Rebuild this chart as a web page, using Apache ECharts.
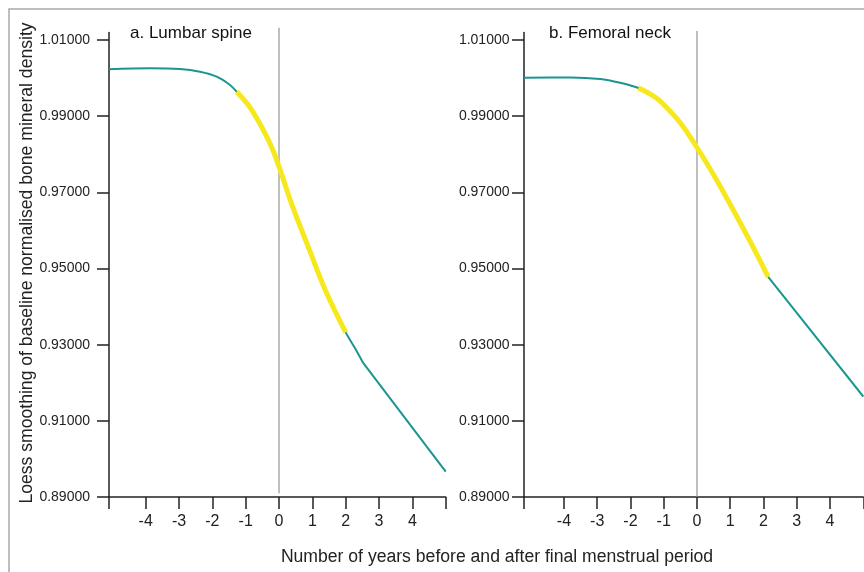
<!DOCTYPE html>
<html>
<head>
<meta charset="utf-8">
<script src="https://cdn.jsdelivr.net/npm/echarts@6/dist/echarts.min.js"></script>
<style>html,body{margin:0;padding:0;background:#fff;}#c{width:864px;height:572px;}</style>
</head>
<body>
<div id="c"></div>
<script>
// Panel a: Lumbar spine
const lumbarYears  = [-5.1, -3.87, -2.97, -2.37, -1.87, -1.47, -1.27, -0.9, -0.57, -0.25, 0, 0.4, 0.9, 1.4, 2.0, 2.28, 2.53, 5.0];
const lumbarValues = [1.00231, 1.00257, 1.00239, 1.00168, 1.00037, 0.99819, 0.99643, 0.99268, 0.98795, 0.98244, 0.97675, 0.96643, 0.95515, 0.94412, 0.93323, 0.92908, 0.92514, 0.89669];
const lumbarHighlightFrom = 6;   // index of first highlighted point
const lumbarHighlightTo = 14;    // index of last highlighted point
const lumbarKink = 16;           // straight segment starts here

// Panel b: Femoral neck
const femoralYears  = [-5.2, -3.81, -2.91, -2.31, -1.76, -1.41, -1.11, -0.51, 0, 0.59, 1.09, 1.59, 2.14, 5.0];
const femoralValues = [1.00011, 1.00016, 0.99976, 0.99877, 0.99740, 0.99583, 0.99399, 0.98835, 0.98178, 0.97325, 0.96538, 0.95724, 0.94779, 0.91638];
const femoralHighlightFrom = 4;
const femoralHighlightTo = 12;
const femoralKink = 12;

const yTicks = [0.89, 0.91, 0.93, 0.95, 0.97, 0.99, 1.01];
const xLabelTicks = [-4, -3, -2, -1, 0, 1, 2, 3, 4];
const panelTitles = ['a. Lumbar spine', 'b. Femoral neck'];
const yAxisTitle = 'Loess smoothing of baseline normalised bone mineral density';
const xAxisTitle = 'Number of years before and after final menstrual period';

const zeroLineA = [[0, 1.0132], [0, 0.891]];
const zeroLineB = [[0, 1.0124], [0, 0.8901]];

const TEAL = '#1b9590';
const YELLOW = '#f6e81c';
const FONT = '"Liberation Sans", Arial, sans-serif';

function pairs(xs, ys, from, to) {
  const out = [];
  const a = from == null ? 0 : from;
  const b = to == null ? xs.length - 1 : to;
  for (let i = a; i <= b; i++) out.push([xs[i], ys[i]]);
  return out;
}

function xAxisFor(idx, min) {
  return {
    type: 'value', gridIndex: idx, min: min, max: 5,
    axisLine: { show: true, onZero: false, lineStyle: { color: '#222', width: 1.5 } },
    axisTick: { show: true, length: 12, customValues: [min].concat(xLabelTicks, [5]), lineStyle: { color: '#222', width: 1.5 } },
    axisLabel: { customValues: xLabelTicks, margin: 17, color: '#222', fontSize: 16, fontFamily: FONT },
    splitLine: { show: false }
  };
}
function yAxisFor(idx, margin) {
  return {
    type: 'value', gridIndex: idx, min: 0.89, max: 1.012,
    axisLine: { show: true, onZero: false, lineStyle: { color: '#222', width: 1.5 } },
    axisTick: { show: true, length: 12, customValues: yTicks, lineStyle: { color: '#222', width: 1.5 } },
    axisLabel: { customValues: yTicks, margin: margin, color: '#222', fontSize: 14, fontFamily: FONT,
      formatter: v => v.toFixed(5) },
    splitLine: { show: false }
  };
}

function curveSeries(grid, xs, ys, from, to, color, width, z, smooth) {
  return { type: 'line', xAxisIndex: grid, yAxisIndex: grid, data: pairs(xs, ys, from, to), symbol: 'none',
    smooth: smooth, silent: true, lineStyle: { color: color, width: width, cap: 'butt' }, z: z };
}

const chart = echarts.init(document.getElementById('c'), null, { renderer: 'canvas' });
chart.setOption({
  animation: false,
  backgroundColor: '#fff',
  grid: [
    { left: 109, top: 32.4, width: 336.7, height: 464.6 },
    { left: 524, top: 32.4, width: 339.3, height: 464.6 }
  ],
  xAxis: [xAxisFor(0, -5.1), xAxisFor(1, -5.2)],
  yAxis: [yAxisFor(0, 19), yAxisFor(1, 14.5)],
  graphic: [
    { type: 'rect', silent: true, z: -10, shape: { x: 9, y: 9, width: 900, height: 600 },
      style: { fill: 'none', stroke: '#a9a9a9', lineWidth: 1.5 } },
    { type: 'text', x: 130, y: 33, style: { text: panelTitles[0], font: '17px ' + FONT, fill: '#111', textVerticalAlign: 'middle' } },
    { type: 'text', x: 549, y: 33, style: { text: panelTitles[1], font: '17px ' + FONT, fill: '#111', textVerticalAlign: 'middle' } },
    { type: 'text', x: 497, y: 557, style: { text: xAxisTitle, font: '17.6px ' + FONT, fill: '#222', textAlign: 'center', textVerticalAlign: 'middle' } },
    { type: 'text', x: 27, y: 263, rotation: Math.PI / 2, style: { text: yAxisTitle, font: '17.6px ' + FONT, fill: '#222', textAlign: 'center', textVerticalAlign: 'middle' } }
  ],
  series: [
    { type: 'line', xAxisIndex: 0, yAxisIndex: 0, data: zeroLineA, clip: false, symbol: 'none', silent: true,
      lineStyle: { color: '#aaa', width: 1.5 }, z: 1 },
    { type: 'line', xAxisIndex: 1, yAxisIndex: 1, data: zeroLineB, clip: false, symbol: 'none', silent: true,
      lineStyle: { color: '#aaa', width: 1.5 }, z: 1 },
    curveSeries(0, lumbarYears, lumbarValues, 0, lumbarKink, TEAL, 2, 2, 0.35),
    curveSeries(0, lumbarYears, lumbarValues, lumbarKink, lumbarYears.length - 1, TEAL, 2, 2, false),
    curveSeries(0, lumbarYears, lumbarValues, lumbarHighlightFrom, lumbarHighlightTo, YELLOW, 5, 3, 0.35),
    curveSeries(1, femoralYears, femoralValues, 0, femoralKink, TEAL, 2, 2, 0.35),
    curveSeries(1, femoralYears, femoralValues, femoralKink, femoralYears.length - 1, TEAL, 2, 2, false),
    curveSeries(1, femoralYears, femoralValues, femoralHighlightFrom, femoralHighlightTo, YELLOW, 5, 3, 0.35)
  ]
});
</script>
</body>
</html>
